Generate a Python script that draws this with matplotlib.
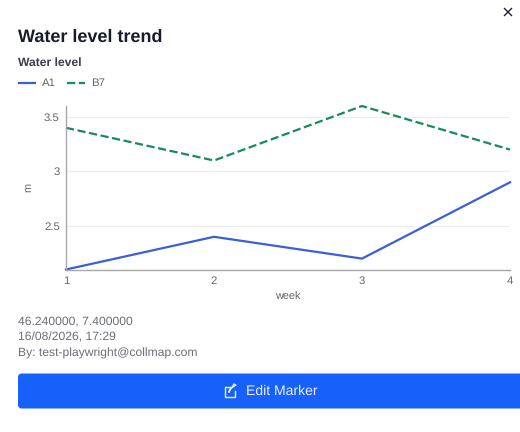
import matplotlib
matplotlib.use("Agg")
import matplotlib.pyplot as plt
from matplotlib.patches import FancyBboxPatch

plt.rcParams['font.family'] = ['Liberation Sans', 'DejaVu Sans']
plt.rcParams['text.hinting'] = 'no_hinting'

weeks = [1, 2, 3, 4]
a1_values = [2.1, 2.4, 2.2, 2.9]
b7_values = [3.4, 3.1, 3.6, 3.2]
y_ticks = [2.5, 3, 3.5]
y_tick_labels = ['2.5', '3', '3.5']
info_lines = ['46.240000, 7.400000', '16/08/2026, 17:29', 'By: test-playwright@collmap.com']

BLUE = '#3b5fd9'
GREEN = '#1a8a5a'
GREY = '#666666'

W, H = 520, 432
fig = plt.figure(figsize=(W / 100, H / 100), dpi=100, facecolor='white')

# overlay in pixel coords for the dialog stuff
page = fig.add_axes([0, 0, 1, 1])
page.set_xlim(0, W)
page.set_ylim(H, 0)
page.axis('off')

page.text(18, 37.5, 'Water level trend', fontsize=12.95, fontweight='bold', color='#181c2a', va='center')
page.text(18, 63, 'Water level', fontsize=8.7, fontweight='bold', color='#3a3d4d', va='center')

# close button
page.plot([504.5, 511.5], [8.5, 15.5], color='#1f2233', lw=1.0)
page.plot([504.5, 511.5], [15.5, 8.5], color='#1f2233', lw=1.0)

# legend
page.plot([18, 36], [82.5, 82.5], color=BLUE, lw=1.6, solid_capstyle='butt')
page.text(42, 83, 'A1', fontsize=8.2, color=GREY, va='center')
page.plot([67, 85], [82.5, 82.5], color=GREEN, lw=1.6, dashes=(3.7, 1.6))
page.text(91.5, 83, 'B7', fontsize=8.2, color=GREY, va='center')

for y, line in zip([321, 337, 353], info_lines):
    page.text(18, y, line, fontsize=8.7, color='#6b6e76', va='center')

# button runs off the right edge
page.add_patch(FancyBboxPatch((18, 373.5), 530, 35, boxstyle='round,pad=0,rounding_size=4',
                              fc='#1860fa', ec='none'))
page.text(246, 391.5, 'Edit Marker', fontsize=10.1, color='#e8eefc', va='center')
# pencil icon
page.plot([231, 225, 225, 235, 235], [386.5, 386.5, 397, 397, 391], color='#e8eefc', lw=1.0)
page.plot([229, 229.5, 236, 234, 229], [392, 389.5, 385, 384, 392], color='#e8eefc', lw=0.9)

ax = fig.add_axes([66 / W, 1 - 269.5 / H, 444 / W, 163.5 / H])
ax.patch.set_alpha(0)
ax.plot(weeks, a1_values, color=BLUE, lw=1.6, clip_on=False)
ax.plot(weeks, b7_values, color=GREEN, lw=1.6, dashes=(3.7, 1.6), clip_on=False)
ax.set_xlim(1, 4)
ax.set_ylim(2.1, 3.6)
ax.set_xticks(weeks)
ax.set_xticklabels([str(w) for w in weeks])
ax.set_yticks(y_ticks)
ax.set_yticklabels(y_tick_labels)
ax.grid(axis='y', color='#eeeef2', lw=0.8)
ax.set_axisbelow(True)
ax.tick_params(length=0, labelsize=8.2, labelcolor=GREY, pad=4.5)
for s in ['top', 'right']:
    ax.spines[s].set_visible(False)
for s in ['left', 'bottom']:
    ax.spines[s].set_color('#a8a8a8')
    ax.spines[s].set_linewidth(1.0)
ax.set_xlabel('week', fontsize=7.8, color=GREY, labelpad=4.5)
ax.set_ylabel('m', fontsize=7.8, color=GREY, labelpad=7.5)

fig.savefig('out.png', dpi=100)
